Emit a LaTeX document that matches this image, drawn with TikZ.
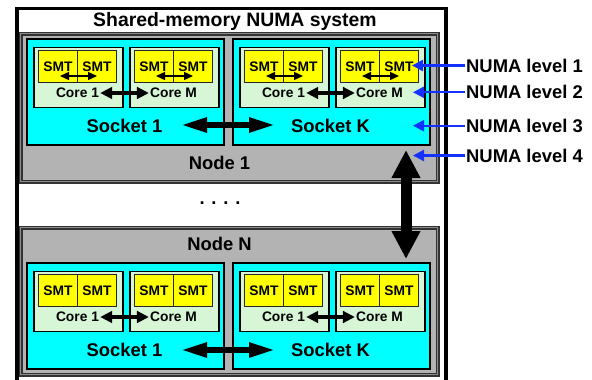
\documentclass[tikz,border=0pt]{standalone}
\usepackage{fontspec}
\setmainfont{Liberation Sans}
\usetikzlibrary{arrows.meta}
\definecolor{cyanc}{RGB}{0,255,255}
\definecolor{yel}{RGB}{255,255,0}
\definecolor{lgreen}{RGB}{214,246,214}
\definecolor{ngray}{RGB}{179,179,179}
\definecolor{ndark}{RGB}{50,50,50}
\definecolor{nmid}{RGB}{140,140,140}
\definecolor{numablue}{RGB}{20,50,255}
\tikzset{
  bigtxt/.style={font=\bfseries\fontsize{18.4}{22}\selectfont, text height=13.2pt, text depth=0pt, inner sep=1pt},
  titletxt/.style={font=\bfseries\fontsize{19.4}{22}\selectfont, text height=13.9pt, text depth=0pt, inner sep=1pt},
  smalltxt/.style={font=\bfseries\fontsize{13.8}{16}\selectfont, text height=9.9pt, text depth=0pt, inner sep=1pt},
  sysbox/.style={draw=black, line width=3.5pt, fill=white, anchor=north west, inner sep=0pt},
  nodebox/.style={draw=ndark, double=nmid, double distance=1pt, line width=1.4pt, fill=ngray, anchor=north west, inner sep=0pt, minimum width=417pt},
  socketbox/.style={draw=black, line width=2pt, fill=cyanc, anchor=north west, minimum width=197pt, minimum height=106pt, inner sep=0pt},
  corebox/.style={draw=black, line width=1.5pt, fill=lgreen, anchor=north west, minimum width=89pt, minimum height=60pt, inner sep=0pt},
  smtbox/.style={draw=black!85, line width=0.9pt, fill=yel, anchor=north west, minimum width=39pt, minimum height=31.5pt, inner sep=0pt, font=\bfseries\fontsize{13.8}{16}\selectfont, text height=9.9pt, text depth=0pt},
  smtarrow/.style={line width=1.4pt, {Triangle[length=9pt,width=8pt]}-{Triangle[length=9pt,width=8pt]}},
  corearrow/.style={line width=3.2pt, {Triangle[length=12pt,width=11.5pt]}-{Triangle[length=12pt,width=11.5pt]}},
  sockarrow/.style={line width=5.5pt, {Triangle[length=26pt,width=14pt]}-{Triangle[length=26pt,width=14pt]}},
  vertarrow/.style={line width=11pt, {Triangle[length=28pt,width=27pt]}-{Triangle[length=28pt,width=27pt]}},
  bluearrow/.style={draw=numablue, line width=2.2pt, -{Triangle[length=11pt,width=11pt]}, fill=numablue},
}
\newcommand{\mksocket}[5]{%
\begin{scope}[shift={(#2,#3)}]
  \node[socketbox] (#1) at (0,0) {};
  \node[bigtxt] (#1-lbl) at (98.5,87.5) {#4};
  \foreach \c/\cx/\ct in {a/7/1,b/103/M}{
    \node[corebox] (#1-\c) at (\cx,8.5) {};
    \node[smtbox] (#1-\c-s1) at (\cx+5,12) {SMT};
    \node[smtbox] (#1-\c-s2) at (\cx+44,12) {SMT};
    \node[smalltxt] (#1-\c-lbl) at (\cx+44.5,55) {Core \ct};
    \ifnum#5=1
      \coordinate (#1-\c-sa) at (\cx+27,38);
      \coordinate (#1-\c-sb) at (\cx+64,38);
      \draw[smtarrow] (#1-\c-sa) -- (#1-\c-sb);
    \fi
  }
  \draw[corearrow] (#1-a-lbl.east) -- (#1-b-lbl.west);
\end{scope}}
\begin{document}
\begin{tikzpicture}[x=1pt,y=-1pt]
\useasboundingbox (0,0) rectangle (592,380);
\node[sysbox, minimum width=429pt, minimum height=374.5pt] (sys) at (15,6.5) {};
\node[titletxt] (title) at (235,19.2) {Shared-memory NUMA system};
\node[nodebox, minimum height=148pt] (node1) at (20,33) {};
\node[nodebox, minimum height=147pt] (nodeN) at (20,227) {};
\node[bigtxt] (n1lbl) at (219.5,163) {Node 1};
\node[bigtxt] (nNlbl) at (219.5,243.7) {Node N};
\mksocket{n1s1}{26}{38}{Socket 1}{1}
\mksocket{n1sK}{232}{38}{Socket K}{1}
\mksocket{nNs1}{26}{262}{Socket 1}{0}
\mksocket{nNsK}{232}{262}{Socket K}{0}
\coordinate (n1sa) at (181,125);
\coordinate (n1sb) at (275,125);
\draw[sockarrow] (n1sa) -- (n1sb);
\coordinate (nNsa) at (181,350);
\coordinate (nNsb) at (275,350);
\draw[sockarrow] (nNsa) -- (nNsb);
\coordinate (va) at (406,150);
\coordinate (vb) at (406,259);
\draw[vertarrow] (va) -- (vb);
\node[bigtxt, anchor=base] (dots) at (220,204.5) {. . . .};
\node[bigtxt, anchor=west] (L1) at (465,65.5) {NUMA level 1};
\node[bigtxt, anchor=west] (L2) at (465,92.3) {NUMA level 2};
\node[bigtxt, anchor=west] (L3) at (465,125.7) {NUMA level 3};
\node[bigtxt, anchor=west] (L4) at (465,155.5) {NUMA level 4};
\coordinate (t1) at (412,65.5);
\coordinate (t2) at (413,92.3);
\coordinate (t3) at (413,125.7);
\coordinate (t4) at (413,155.5);
\draw[bluearrow] (L1.west) -- (t1);
\draw[bluearrow] (L2.west) -- (t2);
\draw[bluearrow] (L3.west) -- (t3);
\draw[bluearrow] (L4.west) -- (t4);
\end{tikzpicture}
\end{document}
